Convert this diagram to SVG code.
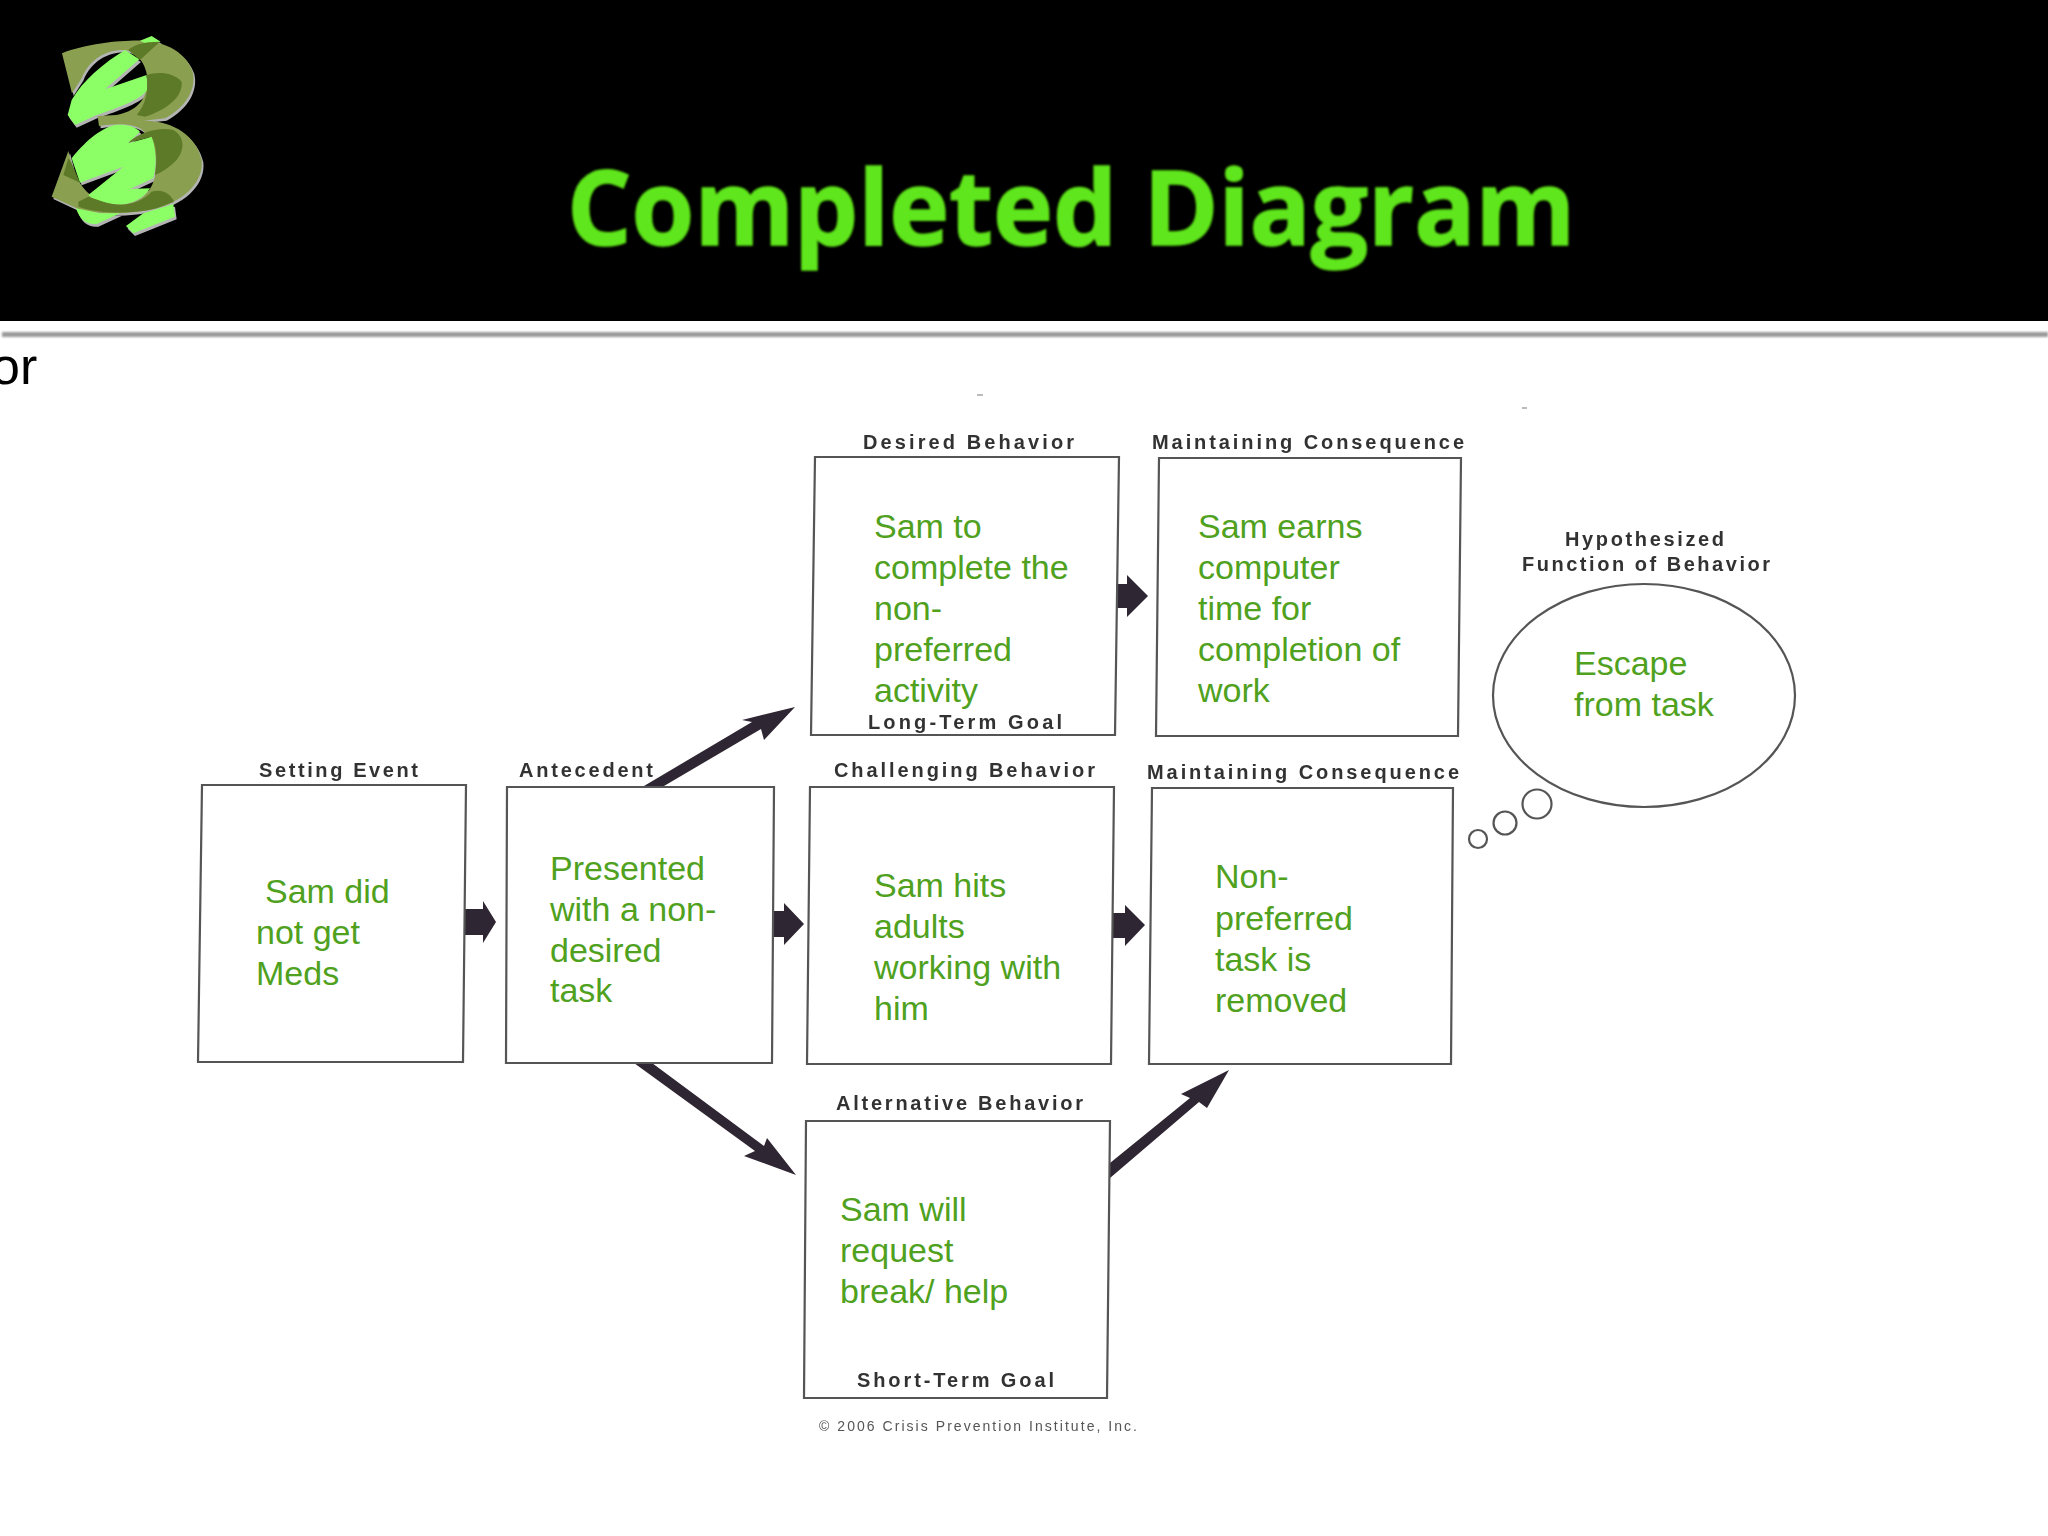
<svg xmlns="http://www.w3.org/2000/svg" width="2048" height="1536" viewBox="0 0 2048 1536">
<style>
.box{fill:none;stroke:#555;stroke-width:2.2}
.lab{font-family:"Liberation Sans",Arial,sans-serif;font-weight:700;font-size:20px;fill:#333}
.tx{font-family:"Liberation Sans",Arial,sans-serif;font-size:34px;fill:#4fa11e}
.arr{fill:#2f2530}
</style>
<defs>
<filter id="scan" x="-5%" y="-5%" width="110%" height="110%"><feGaussianBlur stdDeviation="0.6"/></filter>
<filter id="soft" x="-5%" y="-20%" width="110%" height="140%"><feGaussianBlur stdDeviation="0.9"/></filter>
<filter id="shade" x="-1%" y="-100%" width="102%" height="300%"><feGaussianBlur stdDeviation="0.8"/></filter>
<path id="three" d="M186 160C260 130 370 120 430 122C500 125 560 160 578 215C590 265 560 320 495 355L430 362C520 360 590 410 605 480C612 540 560 600 470 625C390 645 280 645 230 625L155 590L205 453L215 490C225 540 260 590 310 605C400 630 450 590 465 530C475 470 460 410 420 385C390 368 340 372 297 378L293 348L350 345C420 330 445 290 442 230C435 185 410 155 375 150C320 148 270 175 245 235L216 280Z"/>
<path id="swoosh" d="M420 122L455 108L482 125L440 132ZM375 150L418 178L315 268L440 225L442 270C420 300 350 325 290 345L225 375L203 345L215 300C250 240 310 190 375 150ZM215 475C250 430 300 385 345 375C380 372 405 380 420 395L385 430L455 410C470 450 470 500 460 535L390 567L450 565C430 600 380 620 340 612C310 610 280 600 265 585L370 500L240 548ZM228 625L300 640L360 640L290 672C260 675 240 660 228 625ZM378 678L430 640L520 612L525 650L400 700Z"/>
</defs>
<rect width="2048" height="1536" fill="#fff"/>
<g id="header">
<rect width="2048" height="321" fill="#000"/>
<rect x="2" y="332" width="2046" height="5" fill="#9a9a9a" filter="url(#shade)"/>
<text x="567" y="245" font-family="'Open Sans','Liberation Sans',sans-serif" font-weight="700" font-size="104" fill="#5ee61a" stroke="#5ee61a" stroke-width="1.5" textLength="1008" lengthAdjust="spacingAndGlyphs" filter="url(#soft)">Completed Diagram</text>
</g>
<g id="logo" transform="scale(0.3333)">
<use href="#three" fill="#b4b4b4" transform="translate(5,7)"/>
<use href="#swoosh" fill="#b4b4b4" transform="translate(5,8)"/>
<use href="#three" fill="#8aa050"/>
<use href="#swoosh" fill="#8cff66"/>
<path fill="#5d7a28" d="M440 225C470 215 520 215 545 245C550 290 500 330 435 350L410 345C440 310 445 270 440 225ZM385 428C420 395 480 380 520 390C555 410 555 450 530 480C510 500 490 515 465 525C472 470 470 440 455 410ZM205 475L190 525L240 548L215 490ZM235 605L265 590L310 605C370 625 420 610 455 575C490 565 515 585 522 605L470 625C390 645 290 640 235 620ZM385 150C400 135 430 125 480 125L420 180Z"/>
</g>
<text id="stray-text" x="-9" y="384" font-family="'Liberation Sans',Arial,sans-serif" font-size="52" fill="#000">or</text>
<g id="scan-marks" fill="#bbb"><rect x="977" y="394" width="6" height="2"/><rect x="1522" y="407" width="5" height="2"/></g>
<g id="connectors" filter="url(#scan)">
<path class="arr" d="M465 909H483V901L496 922L483 943V935H465Z"/>
<path class="arr" d="M773 911H784V903L804 924L784 945V937H773Z"/>
<path class="arr" d="M1116 584H1127V575L1148 596L1127 617V608H1116Z"/>
<path class="arr" d="M1113 913H1125V905L1145 925L1125 946V938H1113Z"/>
<path class="arr" d="M644 786L752 722L742 720L795 707L764 740L761 729L664 786Z"/>
<path class="arr" d="M634 1063H652L764 1146L767 1138L796 1175L744 1156L755 1151Z"/>
<path class="arr" d="M1110 1163L1190 1098L1181 1094L1229 1070L1207 1108L1199 1102L1110 1178Z"/>
</g>
<g id="setting-event"><path class="box" filter="url(#scan)" d="M202 785H466L463 1062H198Z"/>
<text class="lab" filter="url(#scan)" x="259" y="777" textLength="159">Setting Event</text>
<text class="tx" x="265" y="903">Sam did</text><text class="tx" x="256" y="944">not get</text><text class="tx" x="256" y="985">Meds</text></g>
<g id="antecedent"><path class="box" filter="url(#scan)" d="M507 787H774L772 1063H506Z"/>
<text class="lab" filter="url(#scan)" x="519" y="777" textLength="134">Antecedent</text>
<text class="tx" x="550" y="880">Presented</text><text class="tx" x="550" y="921">with a non-</text><text class="tx" x="550" y="962">desired</text><text class="tx" x="550" y="1002">task</text></g>
<g id="desired-behavior"><path class="box" filter="url(#scan)" d="M815 457H1119L1115 735H811Z"/>
<text class="lab" filter="url(#scan)" x="863" y="449" textLength="211">Desired Behavior</text>
<text class="tx" x="874" y="538">Sam to</text><text class="tx" x="874" y="579">complete the</text><text class="tx" x="874" y="620">non-</text><text class="tx" x="874" y="661">preferred</text><text class="tx" x="874" y="702">activity</text>
<text class="lab" filter="url(#scan)" x="868" y="729" textLength="194">Long-Term Goal</text></g>
<g id="maintaining-consequence-top"><path class="box" filter="url(#scan)" d="M1159 458H1461L1458 736H1156Z"/>
<text class="lab" filter="url(#scan)" x="1152" y="449" textLength="312">Maintaining Consequence</text>
<text class="tx" x="1198" y="538">Sam earns</text><text class="tx" x="1198" y="579">computer</text><text class="tx" x="1198" y="620">time for</text><text class="tx" x="1198" y="661">completion of</text><text class="tx" x="1198" y="702">work</text></g>
<g id="challenging-behavior"><path class="box" filter="url(#scan)" d="M810 787H1114L1111 1064H807Z"/>
<text class="lab" filter="url(#scan)" x="834" y="777" textLength="261">Challenging Behavior</text>
<text class="tx" x="874" y="897">Sam hits</text><text class="tx" x="874" y="938">adults</text><text class="tx" x="874" y="979">working with</text><text class="tx" x="874" y="1020">him</text></g>
<g id="maintaining-consequence-mid"><path class="box" filter="url(#scan)" d="M1152 788H1453L1451 1064H1149Z"/>
<text class="lab" filter="url(#scan)" x="1147" y="779" textLength="312">Maintaining Consequence</text>
<text class="tx" x="1215" y="888">Non-</text><text class="tx" x="1215" y="930">preferred</text><text class="tx" x="1215" y="971">task is</text><text class="tx" x="1215" y="1012">removed</text></g>
<g id="alternative-behavior"><path class="box" filter="url(#scan)" d="M806 1121H1110L1107 1398H804Z"/>
<text class="lab" filter="url(#scan)" x="836" y="1110" textLength="247">Alternative Behavior</text>
<text class="tx" x="840" y="1221">Sam will</text><text class="tx" x="840" y="1262">request</text><text class="tx" x="840" y="1303">break/ help</text>
<text class="lab" filter="url(#scan)" x="857" y="1387" textLength="197">Short-Term Goal</text></g>
<g id="hypothesized-function">
<g class="box" filter="url(#scan)"><ellipse cx="1644" cy="695.5" rx="151" ry="111.5"/><circle cx="1537" cy="804" r="14.5"/><circle cx="1505" cy="823" r="11.5"/><circle cx="1478" cy="839" r="9"/></g>
<text class="lab" filter="url(#scan)" x="1565" y="546" textLength="159">Hypothesized</text>
<text class="lab" filter="url(#scan)" x="1522" y="571" textLength="248">Function of Behavior</text>
<text class="tx" x="1574" y="675">Escape</text><text class="tx" x="1574" y="716">from task</text></g>
<text id="copyright" filter="url(#scan)" x="819" y="1431" font-family="'Liberation Sans',Arial,sans-serif" font-size="14" fill="#555" textLength="318">© 2006 Crisis Prevention Institute, Inc.</text>
</svg>
